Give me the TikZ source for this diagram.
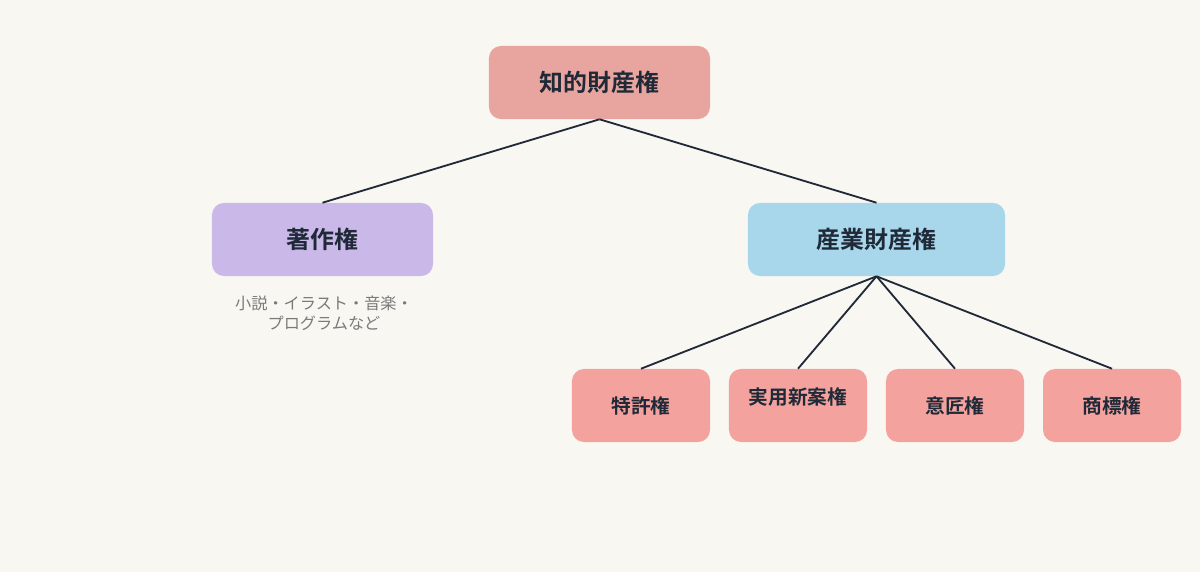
\documentclass[tikz,border=0pt]{standalone}
\usepackage{fontspec}
\newfontfamily\cjk{Noto Sans CJK JP}
\newfontfamily\cjkb{Noto Sans CJK JP Bold}
\definecolor{bgcol}{HTML}{F9F7F2}
\definecolor{rootcol}{HTML}{E8A59F}
\definecolor{copycol}{HTML}{C9B8E8}
\definecolor{indcol}{HTML}{A8D6EB}
\definecolor{leafcol}{HTML}{F4A29E}
\definecolor{inkcol}{HTML}{1F2937}
\definecolor{notecol}{HTML}{7A7A7A}
\tikzset{
  box/.style={rounded corners=0.3cm, minimum height=1.825cm, text=inkcol, font=\cjkb\fontsize{17}{20}\selectfont},
  leaf/.style={box, fill=leafcol, minimum width=3.45cm, font=\cjkb\fontsize{14}{17}\selectfont},
  link/.style={draw=inkcol, line width=1.3pt}
}
\begin{document}
\begin{tikzpicture}[x=0.025cm,y=-0.025cm]
  \fill [bgcol] (0,0) rectangle (1200,572);

  % top level
  \node [box, fill=rootcol, minimum width=5.525cm] (ip) at (599.5,82.5) {知的財産権};

  % second level
  \node [box, fill=copycol, minimum width=5.525cm] (copy) at (322.5,239.5) {著作権};
  \node [box, fill=indcol, minimum width=6.425cm] (ind) at (876.5,239.5) {産業財産権};
  \node [text=notecol, font=\cjk\fontsize{11.5}{14}\selectfont, align=center] (note) at (324,313) {小説・イラスト・音楽・\\プログラムなど};

  % leaves
  \node [leaf] (pat) at (641,405.5) {特許権};
  \node [leaf, text depth=14pt] (util) at (798,405.5) {実用新案権};
  \node [leaf] (des) at (955,405.5) {意匠権};
  \node [leaf] (mark) at (1112,405.5) {商標権};

  % links
  \draw [link] (ip.south) -- (copy.north);
  \draw [link] (ip.south) -- (ind.north);
  \foreach \n in {pat,util,des,mark}
    \draw [link] (ind.south) -- (\n.north);
\end{tikzpicture}
\end{document}
